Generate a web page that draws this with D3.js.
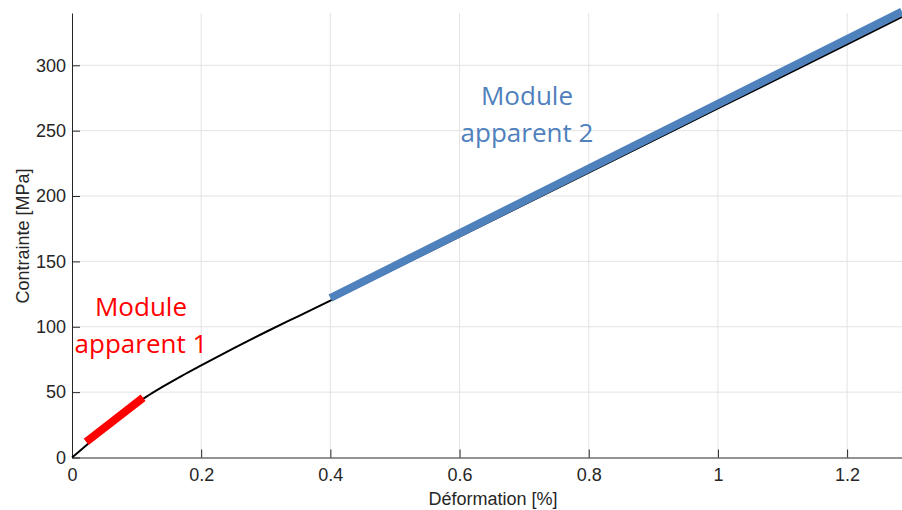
<!DOCTYPE html>
<html>
<head>
<meta charset="utf-8">
<script src="https://cdn.jsdelivr.net/npm/d3@7"></script>
<style>
  body { margin: 0; background: #fff; }
  .axis text { font-family: "Liberation Sans", Arial, sans-serif; font-size: 18px; fill: #262626; }
  .axis path, .axis line { stroke: #262626; }
</style>
</head>
<body>
<svg id="chart" width="902" height="510"></svg>
<script>
// black stress-strain curve
var strain = [0, 0.02, 0.05, 0.08, 0.1, 0.12, 0.14, 0.17, 0.2, 0.25, 0.3, 0.35, 0.4, 0.6, 0.8, 1.0, 1.2, 1.285];
var stress = [0, 8.4, 21, 33.5, 41.5, 48, 54, 62.5, 70.5, 83.5, 96, 108, 120, 169, 218, 267, 316, 337];

// apparent moduli segments
var mod1X = [0.022, 0.11], mod1Y = [12, 45.7];
var mod2X = [0.4, 1.285], mod2Y = [122, 341];

var xTicks = [0, 0.2, 0.4, 0.6, 0.8, 1, 1.2];
var yTicks = [0, 50, 100, 150, 200, 250, 300];

var svg = d3.select("#chart");
var mLeft = 72, mRight = 902, mTop = 13, mBottom = 457.5;

var x = d3.scaleLinear().domain([0, 1.285]).range([mLeft, mRight]);
var y = d3.scaleLinear().domain([0, 340]).range([mBottom, mTop]);

// grid
svg.append("g").selectAll("line").data(xTicks.slice(1)).enter().append("line")
    .attr("x1", function (d) { return x(d); }).attr("x2", function (d) { return x(d); })
    .attr("y1", mTop).attr("y2", mBottom)
    .attr("stroke", "#e3e3e3").attr("stroke-width", 1);
svg.append("g").selectAll("line").data(yTicks.slice(1)).enter().append("line")
    .attr("y1", function (d) { return y(d); }).attr("y2", function (d) { return y(d); })
    .attr("x1", mLeft).attr("x2", mRight)
    .attr("stroke", "#e3e3e3").attr("stroke-width", 1);

// axes (ticks pointing inward)
svg.append("g")
    .attr("class", "axis")
    .attr("transform", "translate(0," + mBottom + ")")
    .call(d3.axisBottom(x).tickValues(xTicks).tickSizeInner(-8).tickSizeOuter(0).tickPadding(11)
        .tickFormat(function (d) { return d; }));
svg.append("g")
    .attr("class", "axis")
    .attr("transform", "translate(" + mLeft + ",0)")
    .call(d3.axisLeft(y).tickValues(yTicks).tickSizeInner(-8).tickSizeOuter(0).tickPadding(6));

var line = d3.line()
    .x(function (d) { return x(d[0]); })
    .y(function (d) { return y(d[1]); })
    .curve(d3.curveMonotoneX);

svg.append("path")
    .datum(d3.zip(strain, stress))
    .attr("d", line)
    .attr("fill", "none")
    .attr("stroke", "#000")
    .attr("stroke-width", 2);

svg.append("path")
    .datum(d3.zip(mod1X, mod1Y))
    .attr("d", line)
    .attr("stroke", "#ff0000")
    .attr("stroke-width", 8);

svg.append("path")
    .datum(d3.zip(mod2X, mod2Y))
    .attr("d", line)
    .attr("stroke", "#4f81bd")
    .attr("stroke-width", 8);

// labels
function add_label(lines, cx, cy, color) {
    var t = svg.append("text")
        .attr("text-anchor", "middle")
        .attr("font-family", "'Open Sans', sans-serif")
        .attr("font-size", "26px")
        .style("fill", color);
    lines.forEach(function (s, i) {
        t.append("tspan").attr("x", cx).attr("y", cy + i * 37).text(s);
    });
}
add_label(["Module", "apparent 1"], 141, 316, "#ff0000");
add_label(["Module", "apparent 2"], 527, 105, "#4f81bd");

svg.append("text")
    .attr("x", 493).attr("y", 505)
    .attr("text-anchor", "middle")
    .attr("font-family", "'Liberation Sans', Arial, sans-serif")
    .attr("font-size", "18px")
    .style("fill", "#262626")
    .text("Déformation [%]");

svg.append("text")
    .attr("transform", "translate(29,236) rotate(-90)")
    .attr("text-anchor", "middle")
    .attr("font-family", "'Liberation Sans', Arial, sans-serif")
    .attr("font-size", "18px")
    .style("fill", "#262626")
    .text("Contrainte [MPa]");
</script>
</body>
</html>
